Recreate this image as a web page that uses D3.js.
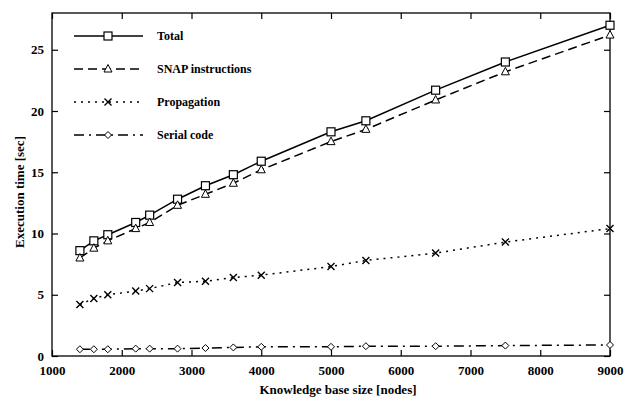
<!DOCTYPE html>
<html>
<head>
<meta charset="utf-8">
<script src="https://cdn.jsdelivr.net/npm/d3@7"></script>
<style>
  body { margin: 0; background: #fff; }
  svg { font-family: "Liberation Serif", "DejaVu Serif", serif; }
</style>
</head>
<body>
<div id="chart"></div>
<script>
const sizes = [1400, 1600, 1800, 2200, 2400, 2800, 3200, 3600, 4000, 5000, 5500, 6500, 7500, 9000];
const total = [8.6, 9.4, 9.9, 10.9, 11.5, 12.8, 13.9, 14.8, 15.9, 18.3, 19.2, 21.7, 24.0, 27.0];
const snap = [8.0, 8.8, 9.4, 10.4, 10.9, 12.3, 13.2, 14.1, 15.2, 17.5, 18.5, 20.9, 23.2, 26.2];
const propagation = [4.2, 4.7, 5.0, 5.3, 5.5, 6.0, 6.1, 6.4, 6.6, 7.3, 7.8, 8.4, 9.3, 10.4];
const serial = [0.55, 0.55, 0.55, 0.6, 0.6, 0.6, 0.65, 0.7, 0.75, 0.75, 0.8, 0.8, 0.85, 0.9];
const xTicks = [1000, 2000, 3000, 4000, 5000, 6000, 7000, 8000, 9000];
const yTicks = [0, 5, 10, 15, 20, 25];

const series = [
  { name: 'Total', values: total, dash: null, marker: 'square' },
  { name: 'SNAP instructions', values: snap, dash: '9,5', marker: 'triangle' },
  { name: 'Propagation', values: propagation, dash: '2,5', marker: 'cross' },
  { name: 'Serial code', values: serial, dash: '10,5,2,5', marker: 'diamond' }
];

const width = 629;
const height = 401;
const margin = { top: 13, right: 19, bottom: 45, left: 52 };

const svg = d3.select('#chart')
  .append('svg')
  .attr('width', width)
  .attr('height', height);

const xScale = d3.scaleLinear().domain([1000, 9000]).range([margin.left, width - margin.right]);
const yScale = d3.scaleLinear().domain([0, 28]).range([height - margin.bottom, margin.top]);

const usable = {
  left: margin.left,
  right: width - margin.right,
  top: margin.top,
  bottom: height - margin.bottom
};

// frame
svg.append('rect')
  .attr('x', usable.left)
  .attr('y', usable.top)
  .attr('width', usable.right - usable.left)
  .attr('height', usable.bottom - usable.top)
  .attr('fill', 'none')
  .attr('stroke', '#000')
  .attr('stroke-width', 1.3);

// axes with inward ticks, mirrored on top and right
const fmt = d3.format('d');
const xAxis = svg.append('g')
  .attr('transform', `translate(0, ${usable.bottom})`)
  .call(d3.axisBottom(xScale).tickValues(xTicks).tickFormat(fmt).tickSize(-6).tickPadding(10));
const xTop = svg.append('g')
  .attr('transform', `translate(0, ${usable.top})`)
  .call(d3.axisTop(xScale).tickValues(xTicks).tickSize(-6).tickFormat(''));
const yAxis = svg.append('g')
  .attr('transform', `translate(${usable.left}, 0)`)
  .call(d3.axisLeft(yScale).tickValues(yTicks).tickFormat(fmt).tickSize(-6).tickPadding(8));
const yRight = svg.append('g')
  .attr('transform', `translate(${usable.right}, 0)`)
  .call(d3.axisRight(yScale).tickValues(yTicks).tickSize(-6).tickFormat(''));

[xAxis, xTop, yAxis, yRight].forEach(g => {
  g.select('.domain').remove();
  g.selectAll('line').attr('stroke', '#000').attr('stroke-width', 1.2);
  g.selectAll('text')
    .attr('fill', '#000')
    .style('font-size', '13px')
    .style('font-weight', 'bold')
    .style('font-family', '"Liberation Serif", serif');
});

// lines
const line = d3.line()
  .x((d, i) => xScale(sizes[i]))
  .y(d => yScale(d));

function drawMarker(g, type, x, y) {
  if (type === 'square') {
    g.append('rect').attr('x', x - 4).attr('y', y - 4).attr('width', 8).attr('height', 8)
      .attr('fill', '#fff').attr('stroke', '#000').attr('stroke-width', 1.2);
  } else if (type === 'triangle') {
    g.append('path')
      .attr('d', `M${x},${y - 4.5}L${x + 4},${y + 3}L${x - 4},${y + 3}Z`)
      .attr('fill', '#fff').attr('stroke', '#000').attr('stroke-width', 1);
  } else if (type === 'cross') {
    g.append('path')
      .attr('d', `M${x - 3.5},${y - 3.5}L${x + 3.5},${y + 3.5}M${x - 3.5},${y + 3.5}L${x + 3.5},${y - 3.5}`)
      .attr('stroke', '#000').attr('stroke-width', 1.4);
  } else {
    g.append('path')
      .attr('d', `M${x},${y - 3.5}L${x + 3.5},${y}L${x},${y + 3.5}L${x - 3.5},${y}Z`)
      .attr('fill', '#fff').attr('stroke', '#000').attr('stroke-width', 1);
  }
}

series.forEach(s => {
  svg.append('path')
    .datum(s.values)
    .attr('d', line)
    .attr('fill', 'none')
    .attr('stroke', '#000')
    .attr('stroke-width', 1.5)
    .attr('stroke-dasharray', s.dash);
  const g = svg.append('g');
  s.values.forEach((v, i) => drawMarker(g, s.marker, xScale(sizes[i]), yScale(v)));
});

// legend
const legend = svg.append('g');
series.forEach((s, i) => {
  const y = 36 + i * 33;
  legend.append('line')
    .attr('x1', 74).attr('x2', 143).attr('y1', y).attr('y2', y)
    .attr('stroke', '#000').attr('stroke-width', 1.5)
    .attr('stroke-dasharray', s.dash);
  drawMarker(legend, s.marker, 108, y);
  legend.append('text')
    .attr('x', 157).attr('y', y + 4)
    .style('font-size', '12px')
    .style('font-weight', 'bold')
    .text(s.name);
});

// axis titles
svg.append('text')
  .attr('x', 338)
  .attr('y', 394)
  .attr('text-anchor', 'middle')
  .style('font-size', '13px')
  .style('font-weight', 'bold')
  .text('Knowledge base size [nodes]');

svg.append('text')
  .attr('transform', 'translate(24, 192) rotate(-90)')
  .attr('text-anchor', 'middle')
  .style('font-size', '13px')
  .style('font-weight', 'bold')
  .text('Execution time [sec]');
</script>
</body>
</html>
